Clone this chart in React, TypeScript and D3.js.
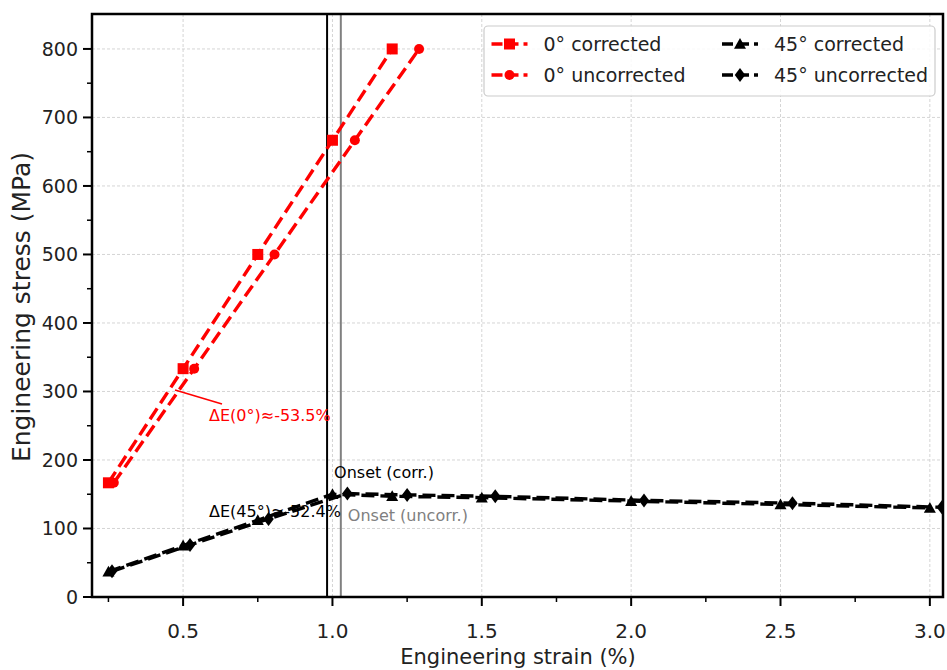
import React from "react";
import * as d3 from "d3";

const strain0Corr = [0.25, 0.5, 0.75, 1.0, 1.2];
const strain0Unc = [0.268, 0.537, 0.806, 1.075, 1.29];
const stress0 = [166.7, 333.3, 500, 666.7, 800];

const strain45Corr = [0.25, 0.5, 0.75, 1.0, 1.2, 1.5, 2.0, 2.5, 3.0];
const stress45Corr = [37, 75, 112, 150, 147, 145, 140, 135, 130];
const strain45Unc = [0.262, 0.523, 0.786, 1.05, 1.25, 1.545, 2.043, 2.54, 3.04];
const stress45Unc = [37.5, 76, 114, 151, 149, 147, 141, 137, 131];

const onsetCorr = 0.982;
const onsetUnc = 1.028;

const xMajor = [0.5, 1.0, 1.5, 2.0, 2.5, 3.0];
const xMinor = [0.25, 0.75, 1.25, 1.75, 2.25, 2.75];
const yMajor = [0, 100, 200, 300, 400, 500, 600, 700, 800];
const yMinor = [50, 150, 250, 350, 450, 550, 650, 750];

const legendItems = [
  { label: "0° corrected", color: "#ff0000", marker: "square", col: 0, row: 0 },
  { label: "0° uncorrected", color: "#ff0000", marker: "circle", col: 0, row: 1 },
  { label: "45° corrected", color: "#000000", marker: "triangle", col: 1, row: 0 },
  { label: "45° uncorrected", color: "#000000", marker: "diamond", col: 1, row: 1 },
];

const FONT = "DejaVu Sans, sans-serif";
const W = 947;
const H = 670;
const L = 92, R = 943, T = 14, B = 597;

function Marker({ type, x, y, color }: { type: string; x: number; y: number; color: string }) {
  if (type === "square") return <rect x={x - 5.5} y={y - 5.5} width={11} height={11} fill={color} />;
  if (type === "circle") return <circle cx={x} cy={y} r={5} fill={color} />;
  if (type === "triangle") {
    const s = 6;
    return <path d={`M${x},${y - s} L${x + s},${y + s * 0.8} L${x - s},${y + s * 0.8} Z`} fill={color} />;
  }
  const s = 7;
  return <path d={`M${x},${y - s} L${x + s * 0.75},${y} L${x},${y + s} L${x - s * 0.75},${y} Z`} fill={color} />;
}

export default function App() {
  const x = d3.scaleLinear().domain([0.195, 3.044]).range([L, R]);
  const y = d3.scaleLinear().domain([0, 851]).range([B, T]);
  const line = d3.line<[number, number]>().x((d) => x(d[0])).y((d) => y(d[1]));

  const series = [
    { xs: strain0Corr, ys: stress0, color: "#ff0000", marker: "square" },
    { xs: strain0Unc, ys: stress0, color: "#ff0000", marker: "circle" },
    { xs: strain45Corr, ys: stress45Corr, color: "#000000", marker: "triangle" },
    { xs: strain45Unc, ys: stress45Unc, color: "#000000", marker: "diamond" },
  ];

  const legX = [491.5, 722];
  const legY = [44, 75];

  return (
    <svg width={W} height={H} style={{ display: "block", position: "absolute", left: 0, top: 0 }} fontFamily={FONT}>
      <rect x={0} y={0} width={W} height={H} fill="#fff" />
      <defs>
        <clipPath id="plotclip">
          <rect x={L} y={T} width={R - L} height={B - T} />
        </clipPath>
      </defs>
      {/* grid */}
      {xMajor.map((v) => (
        <line key={"gx" + v} x1={x(v)} x2={x(v)} y1={T} y2={B} stroke="#d0d0d0" strokeWidth={0.9} strokeDasharray="3,2" />
      ))}
      {yMajor.map((v) => (
        <line key={"gy" + v} x1={L} x2={R} y1={y(v)} y2={y(v)} stroke="#d0d0d0" strokeWidth={0.9} strokeDasharray="3,2" />
      ))}
      <g clipPath="url(#plotclip)">
        <line x1={x(onsetCorr)} x2={x(onsetCorr)} y1={T} y2={B} stroke="#000" strokeWidth={2} />
        <line x1={x(onsetUnc)} x2={x(onsetUnc)} y1={T} y2={B} stroke="#808080" strokeWidth={2} />
        {series.map((s, i) => {
          const pts = s.xs.map((v, j) => [v, s.ys[j]] as [number, number]);
          return (
            <g key={i}>
              <path d={line(pts) || ""} fill="none" stroke={s.color} strokeWidth={3.4} strokeDasharray="13,6" />
              {pts.map((p, j) => (
                <Marker key={j} type={s.marker} x={x(p[0])} y={y(p[1])} color={s.color} />
              ))}
            </g>
          );
        })}
      </g>
      {/* annotations */}
      <line x1={x(0.473)} y1={y(302)} x2={222} y2={404} stroke="#ff0000" strokeWidth={1.6} />
      <text x={209} y={421} fontSize={16} fill="#ff0000">ΔE(0°)≈-53.5%</text>
      <text x={209} y={517} fontSize={16} fill="#000">ΔE(45°)≈-52.4%</text>
      <text x={x(onsetCorr) + 7} y={478} fontSize={16} fill="#000">Onset (corr.)</text>
      <text x={x(onsetUnc) + 7} y={521} fontSize={16} fill="#808080">Onset (uncorr.)</text>
      {/* spines */}
      <rect x={L} y={T} width={R - L} height={B - T} fill="none" stroke="#000" strokeWidth={2.5} />
      {/* ticks */}
      {xMajor.map((v) => (
        <g key={"xt" + v}>
          <line x1={x(v)} x2={x(v)} y1={B} y2={B + 9} stroke="#000" strokeWidth={2} />
          <text x={x(v)} y={638} fontSize={20} textAnchor="middle" fill="#222">{v.toFixed(1)}</text>
        </g>
      ))}
      {xMinor.map((v) => (
        <line key={"xm" + v} x1={x(v)} x2={x(v)} y1={B} y2={B + 5} stroke="#000" strokeWidth={1.5} />
      ))}
      {yMajor.map((v) => (
        <g key={"yt" + v}>
          <line x1={L} x2={L - 9} y1={y(v)} y2={y(v)} stroke="#000" strokeWidth={2} />
          <text x={78} y={y(v)} fontSize={19} textAnchor="end" dominantBaseline="central" fill="#222">{v}</text>
        </g>
      ))}
      {yMinor.map((v) => (
        <line key={"ym" + v} x1={L} x2={L - 5} y1={y(v)} y2={y(v)} stroke="#000" strokeWidth={1.5} />
      ))}
      {/* axis labels */}
      <text x={518} y={664} fontSize={21} textAnchor="middle" fill="#222">Engineering strain (%)</text>
      <text transform={`translate(30,307) rotate(-90)`} fontSize={25} textAnchor="middle" fill="#222">Engineering stress (MPa)</text>
      {/* legend */}
      <rect x={484} y={26} width={451} height={70} rx={4} fill="#fff" fillOpacity={0.85} stroke="#cccccc" strokeWidth={1.2} />
      {legendItems.map((it) => {
        const x0 = legX[it.col];
        const yy = legY[it.row];
        return (
          <g key={it.label}>
            <line x1={x0} x2={x0 + 36} y1={yy} y2={yy} stroke={it.color} strokeWidth={3.4} strokeDasharray="11,5" />
            <Marker type={it.marker} x={x0 + 18} y={yy} color={it.color} />
            <text x={x0 + 52} y={yy} fontSize={19} dominantBaseline="central" fill="#222">{it.label}</text>
          </g>
        );
      })}
    </svg>
  );
}
